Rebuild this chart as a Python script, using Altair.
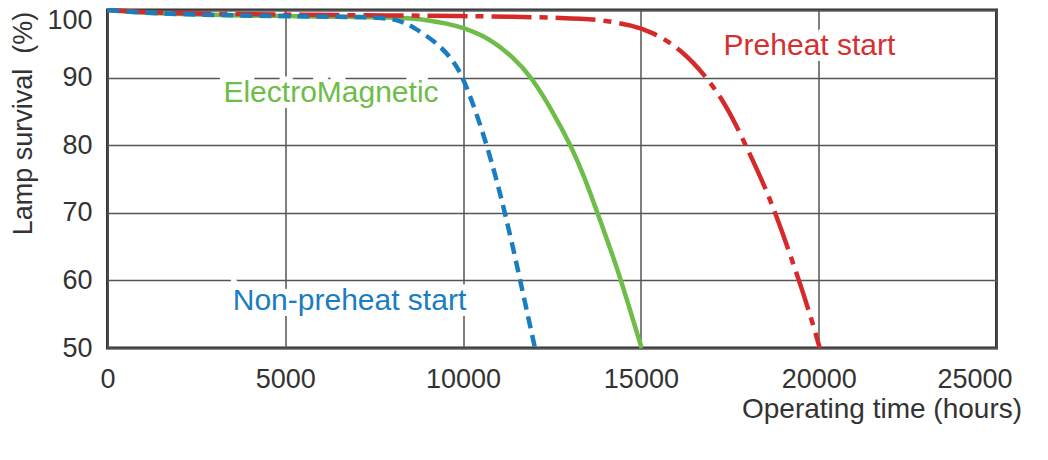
import altair as alt
import pandas as pd

# ---- data ----
hours_np = [0, 1000, 2000, 3500, 5000, 6500, 7700, 8200, 8600, 9255, 9720, 10000, 10380, 10710, 10990, 11175, 11410, 11600, 11830, 12020]
surv_np = [100, 99.6, 99.4, 99.2, 99.1, 99.0, 98.9, 98.5, 97.5, 95.2, 92.6, 90.0, 84.7, 79.25, 73.9, 70.0, 64.7, 60.1, 54.6, 50.0]

hours_em = [0, 1000, 2000, 3500, 5000, 6500, 8000, 8600, 9000, 9540, 10000, 10750, 11410, 11925, 12530, 13050, 13425, 13750, 14220, 14430, 15020]
surv_em = [100, 99.6, 99.4, 99.2, 99.1, 99.0, 98.9, 98.75, 98.5, 98.0, 97.4, 95.8, 93.0, 90.1, 84.9, 79.75, 75.1, 70.4, 63.5, 60.2, 50.0]

hours_ph = [0, 1000, 2000, 3500, 5000, 8000, 10000, 11400, 12800, 13850, 14780, 15340, 16100, 16850, 17400, 17880, 18440, 18720, 19100, 19420, 19750, 20030]
surv_ph = [100, 99.7, 99.5, 99.4, 99.3, 99.2, 99.1, 99.0, 98.85, 98.6, 97.7, 96.7, 94.3, 90.1, 85.9, 80.8, 74.4, 70.8, 65.3, 60.4, 55.1, 50.0]

label_text = ["ElectroMagnetic", "Non-preheat start", "Preheat start"]
label_x = [6285, 6805, 19740]
label_y = [86.4, 55.6, 93.35]
label_color = ["#6dbd48", "#1a7dc0", "#d62f2f"]

x_ticks = [0, 5000, 10000, 15000, 20000, 25000]
y_ticks = [50, 60, 70, 80, 90, 100]

FONT = "Liberation Sans"
TXT = "#333333"

df_np = pd.DataFrame({"hours": hours_np, "surv": surv_np})
df_em = pd.DataFrame({"hours": hours_em, "surv": surv_em})
df_ph = pd.DataFrame({"hours": hours_ph, "surv": surv_ph})
df_lab = pd.DataFrame({"text": label_text, "hours": label_x, "surv": label_y, "color": label_color})

x_enc = alt.X(
    "hours:Q",
    scale=alt.Scale(domain=[0, 25000], nice=False, zero=False),
    axis=alt.Axis(
        values=x_ticks,
        format="d",
        grid=True,
        gridColor="#555555",
        gridWidth=1.5,
        domain=False,
        ticks=False,
        labelFont=FONT,
        labelFontSize=27,
        labelColor=TXT,
        labelBaseline="alphabetic",
        labelPadding=39,
        labelFlush=False,
        labelOffset={"condition": {"test": "datum.value === 25000", "value": -22}, "value": 0},
        title="Operating time (hours)",
        titleFont=FONT,
        titleFontSize=28,
        titleFontWeight="normal",
        titleColor=TXT,
        titleAlign="center",
        titleBaseline="alphabetic",
        titleX=774,
        titleY=69,
    ),
)

y_enc = alt.Y(
    "surv:Q",
    scale=alt.Scale(domain=[50, 100], nice=False, zero=False),
    axis=alt.Axis(
        values=y_ticks,
        grid=True,
        gridColor="#555555",
        gridWidth=1.5,
        domain=False,
        ticks=False,
        labelFont=FONT,
        labelFontSize=27,
        labelColor=TXT,
        labelPadding=15.5,
        labelFlush=False,
        labelOffset={"condition": {"test": "datum.value === 100", "value": 10}, "value": 0},
        title="Lamp survival\u00a0\u00a0(%)",
        titleFont=FONT,
        titleFontSize=27,
        titleFontWeight="normal",
        titleColor=TXT,
        titleAngle=270,
        titleAlign="center",
        titleBaseline="alphabetic",
        titleX=-76.5,
        titleY=113,
    ),
)

halo = alt.Chart(df_lab).mark_text(
    font=FONT, fontSize=30, align="center", baseline="alphabetic",
    stroke="white", strokeWidth=12, fill="white"
).encode(x=x_enc, y=y_enc, text="text:N")

line_em = alt.Chart(df_em).mark_line(
    color="#6dbd48", strokeWidth=4.5, interpolate="basis"
).encode(x=x_enc, y=y_enc)

line_ph = alt.Chart(df_ph).mark_line(
    color="#d62a2a", strokeWidth=4.5, interpolate="basis", strokeDash=[40, 8, 8, 8]
).encode(x=x_enc, y=y_enc)

line_np = alt.Chart(df_np).mark_line(
    color="#1a7dc0", strokeWidth=4.5, interpolate="basis", strokeDash=[12, 7]
).encode(x=x_enc, y=y_enc)

labels = alt.Chart(df_lab).mark_text(
    font=FONT, fontSize=30, align="center", baseline="alphabetic"
).encode(x=x_enc, y=y_enc, text="text:N", color=alt.Color("color:N", scale=None))

chart = alt.layer(halo, line_em, line_ph, line_np, labels).properties(
    width=889,
    height=338,
    autosize=alt.AutoSizeParams(type="none"),
    padding={"left": 99.5, "top": 2, "right": 40, "bottom": 100},
    background="white",
).configure_view(stroke="#333333", strokeWidth=3)

chart.save("out.html", embed_options={"renderer": "svg", "actions": False})
